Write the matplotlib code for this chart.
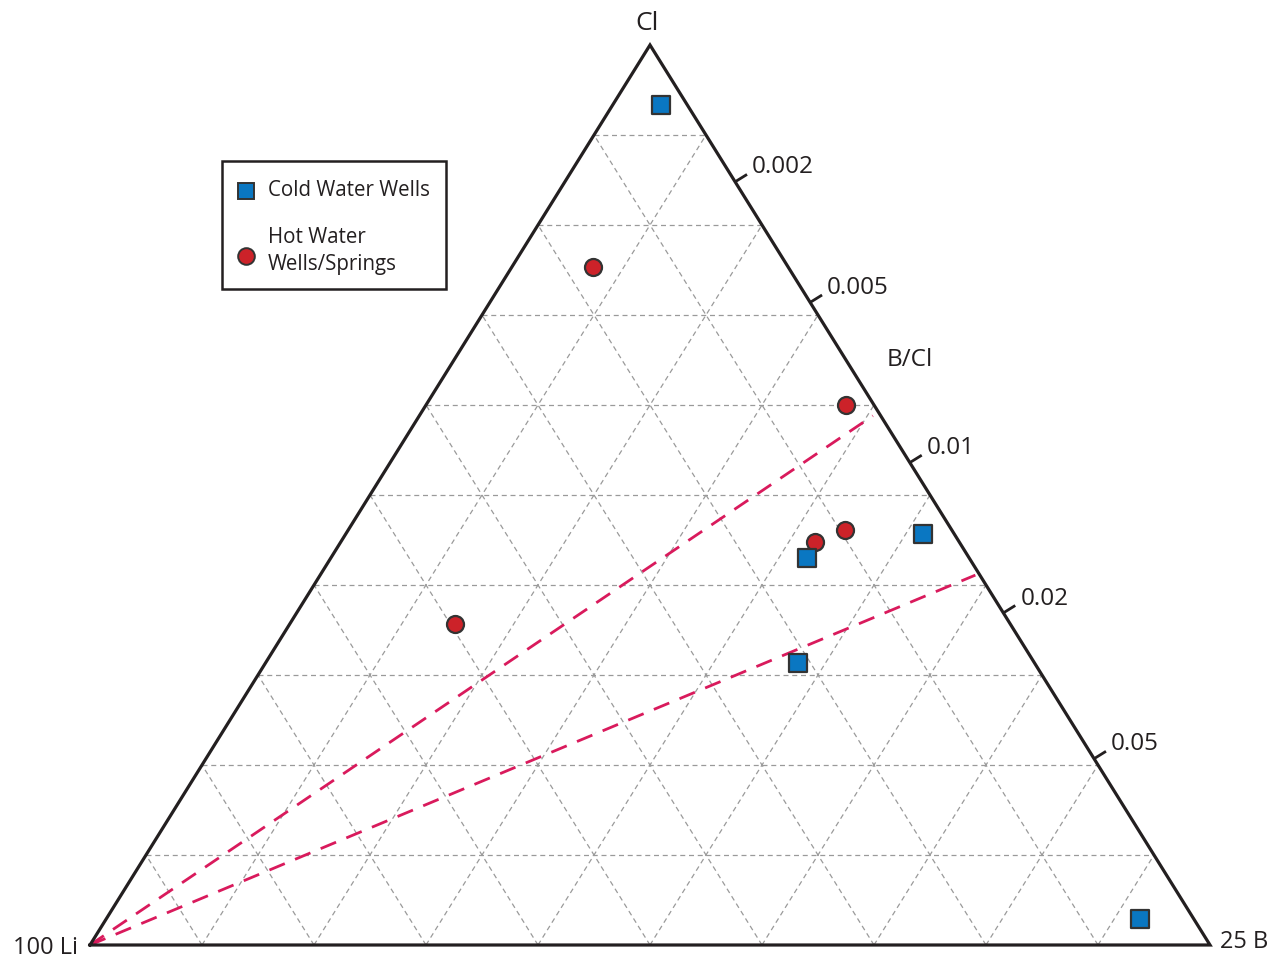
import numpy as np
import matplotlib
matplotlib.use("Agg")
import matplotlib.pyplot as plt
from matplotlib.lines import Line2D
from matplotlib.patches import Rectangle

plt.rcParams['font.family'] = ['Open Sans', 'DejaVu Sans']

# Compositions in percent of the plotted sum (Cl, 100 Li, 25 B)
cold_cl = [93.3, 45.7, 43.0, 31.3, 2.9]
cold_li = [2.4, 2.8, 14.5, 21.1, 4.8]
cold_b = [4.3, 51.5, 42.5, 47.6, 92.3]

hot_cl = [75.3, 60.0, 46.1, 44.8, 35.7]
hot_li = [17.4, 2.5, 9.5, 12.9, 49.6]
hot_b = [7.3, 37.5, 44.4, 42.3, 14.7]

# B/Cl reference lines: start at the Li apex, end near the B-Cl edge
ref_end_cl = [58.8, 41.1]
ref_end_li = [0.7, 0.4]
ref_end_b = [40.5, 58.5]

# B/Cl ratio scale along the Cl-B edge (Cl percent at each tick)
ratio_labels = ["0.002", "0.005", "0.01", "0.02", "0.05"]
ratio_tick_cl = [84.8, 71.4, 53.6, 36.9, 20.7]

legend_labels = ["Cold Water Wells", "Hot Water\nWells/Springs"]

grid_steps = 10

INK = '#231f20'
BLUE = '#0a77c2'
RED = '#cc2229'
EDGE = '#333333'


def to_xy(cl, li, b):
    cl = np.asarray(cl, float)
    li = np.asarray(li, float)
    b = np.asarray(b, float)
    tot = cl + li + b
    return (b + cl / 2) / tot, cl / tot


W, H = 1271, 960
fig = plt.figure(figsize=(W / 100, H / 100), dpi=100)
# triangle apexes: left (90,945) right (1210,945) top (651,45) in pixels
ax = fig.add_axes([90 / W, 15 / H, 1120 / W, 900 / H])
ax.set_xlim(0, 1)
ax.set_ylim(0, 1)
ax.axis('off')

PX = 1 / 1120  # one pixel in x data units
PY = 1 / 900   # one pixel in y data units

# dashed grid
gkw = dict(color='#9a9a9a', lw=0.9, ls=(0, (4, 3)), zorder=1)
for k in range(1, grid_steps):
    f = k / grid_steps
    ax.plot([f / 2, 1 - f / 2], [f, f], **gkw)            # constant Cl
    ax.plot([f, f + (1 - f) / 2], [0, 1 - f], **gkw)      # constant B
    ax.plot([1 - f, (1 - f) / 2], [0, 1 - f], **gkw)      # constant Li

# triangle frame
ax.plot([0, 1, 0.5, 0], [0, 0, 1, 0], color=INK, lw=2.3,
        solid_joinstyle='miter', zorder=3, clip_on=False)

# reference ratio lines
ex, ey = to_xy(ref_end_cl, ref_end_li, ref_end_b)
for x1, y1 in zip(ex, ey):
    ax.plot([0, x1], [0, y1], color='#d91a5c', lw=2.0, ls=(0, (6, 4)),
            zorder=2, clip_on=False)

# B/Cl ticks on right edge
ux, uy = 0.850, 0.528  # outward direction in pixels (right, up)
tick_len = 14
for lab, c in zip(ratio_labels, ratio_tick_cl):
    f = c / 100
    x0, y0 = 1 - f / 2, f
    x1, y1 = x0 + tick_len * ux * PX, y0 + tick_len * uy * PY
    ax.plot([x0, x1], [y0, y1], color=INK, lw=2.0, zorder=3,
            clip_on=False, solid_capstyle='butt')
    ax.text(x1 + 5 * PX, y1 + 7 * PY, lab, ha='left', va='center',
            fontsize=17.5, color=INK)

ax.text(0.5 - 3 * PX, 1 + 21 * PY, "Cl", ha='center', va='center',
        fontsize=19, color=INK)
ax.text(820 * PX, 585 * PY, "B/Cl", ha='center', va='center',
        fontsize=17.5, color=INK)
ax.text(-45 * PX, -3 * PY, "100 Li", ha='center', va='center',
        fontsize=17, color=INK)
ax.text(1 + 34 * PX, 3 * PY, "25 B", ha='center', va='center',
        fontsize=17, color=INK)

# data points
cx, cy = to_xy(cold_cl, cold_li, cold_b)
hx, hy = to_xy(hot_cl, hot_li, hot_b)
ax.scatter(hx, hy, s=150, marker='o', facecolor=RED,
           edgecolor=EDGE, linewidths=1.6, zorder=5, clip_on=False)
ax.scatter(cx, cy, s=150, marker='s', facecolor=BLUE,
           edgecolor=EDGE, linewidths=1.6, zorder=5, clip_on=False)


# legend box, laid out in figure pixels
def fx(px):
    return px / W


def fy(py):
    return 1 - py / H


fig.patches.append(Rectangle((fx(222), fy(289)), fx(446) - fx(222),
                             fy(161) - fy(289), transform=fig.transFigure,
                             facecolor='white', edgecolor=INK, lw=1.8,
                             zorder=6))
fig.lines.append(Line2D([fx(246)], [fy(191)], transform=fig.transFigure,
                        ls='none', marker='s', markersize=11,
                        markerfacecolor=BLUE, markeredgecolor=EDGE,
                        markeredgewidth=1.4, zorder=7))
fig.lines.append(Line2D([fx(246)], [fy(256)], transform=fig.transFigure,
                        ls='none', marker='o', markersize=12,
                        markerfacecolor=RED, markeredgecolor=EDGE,
                        markeredgewidth=1.4, zorder=7))
fig.text(fx(268), fy(190), legend_labels[0], ha='left', va='center',
         fontsize=14.8, color=INK, zorder=7)
fig.text(fx(268), fy(251), legend_labels[1], ha='left', va='center',
         fontsize=14.8, color=INK, linespacing=1.35, zorder=7)

fig.savefig('out.png', dpi=100, facecolor='white')
